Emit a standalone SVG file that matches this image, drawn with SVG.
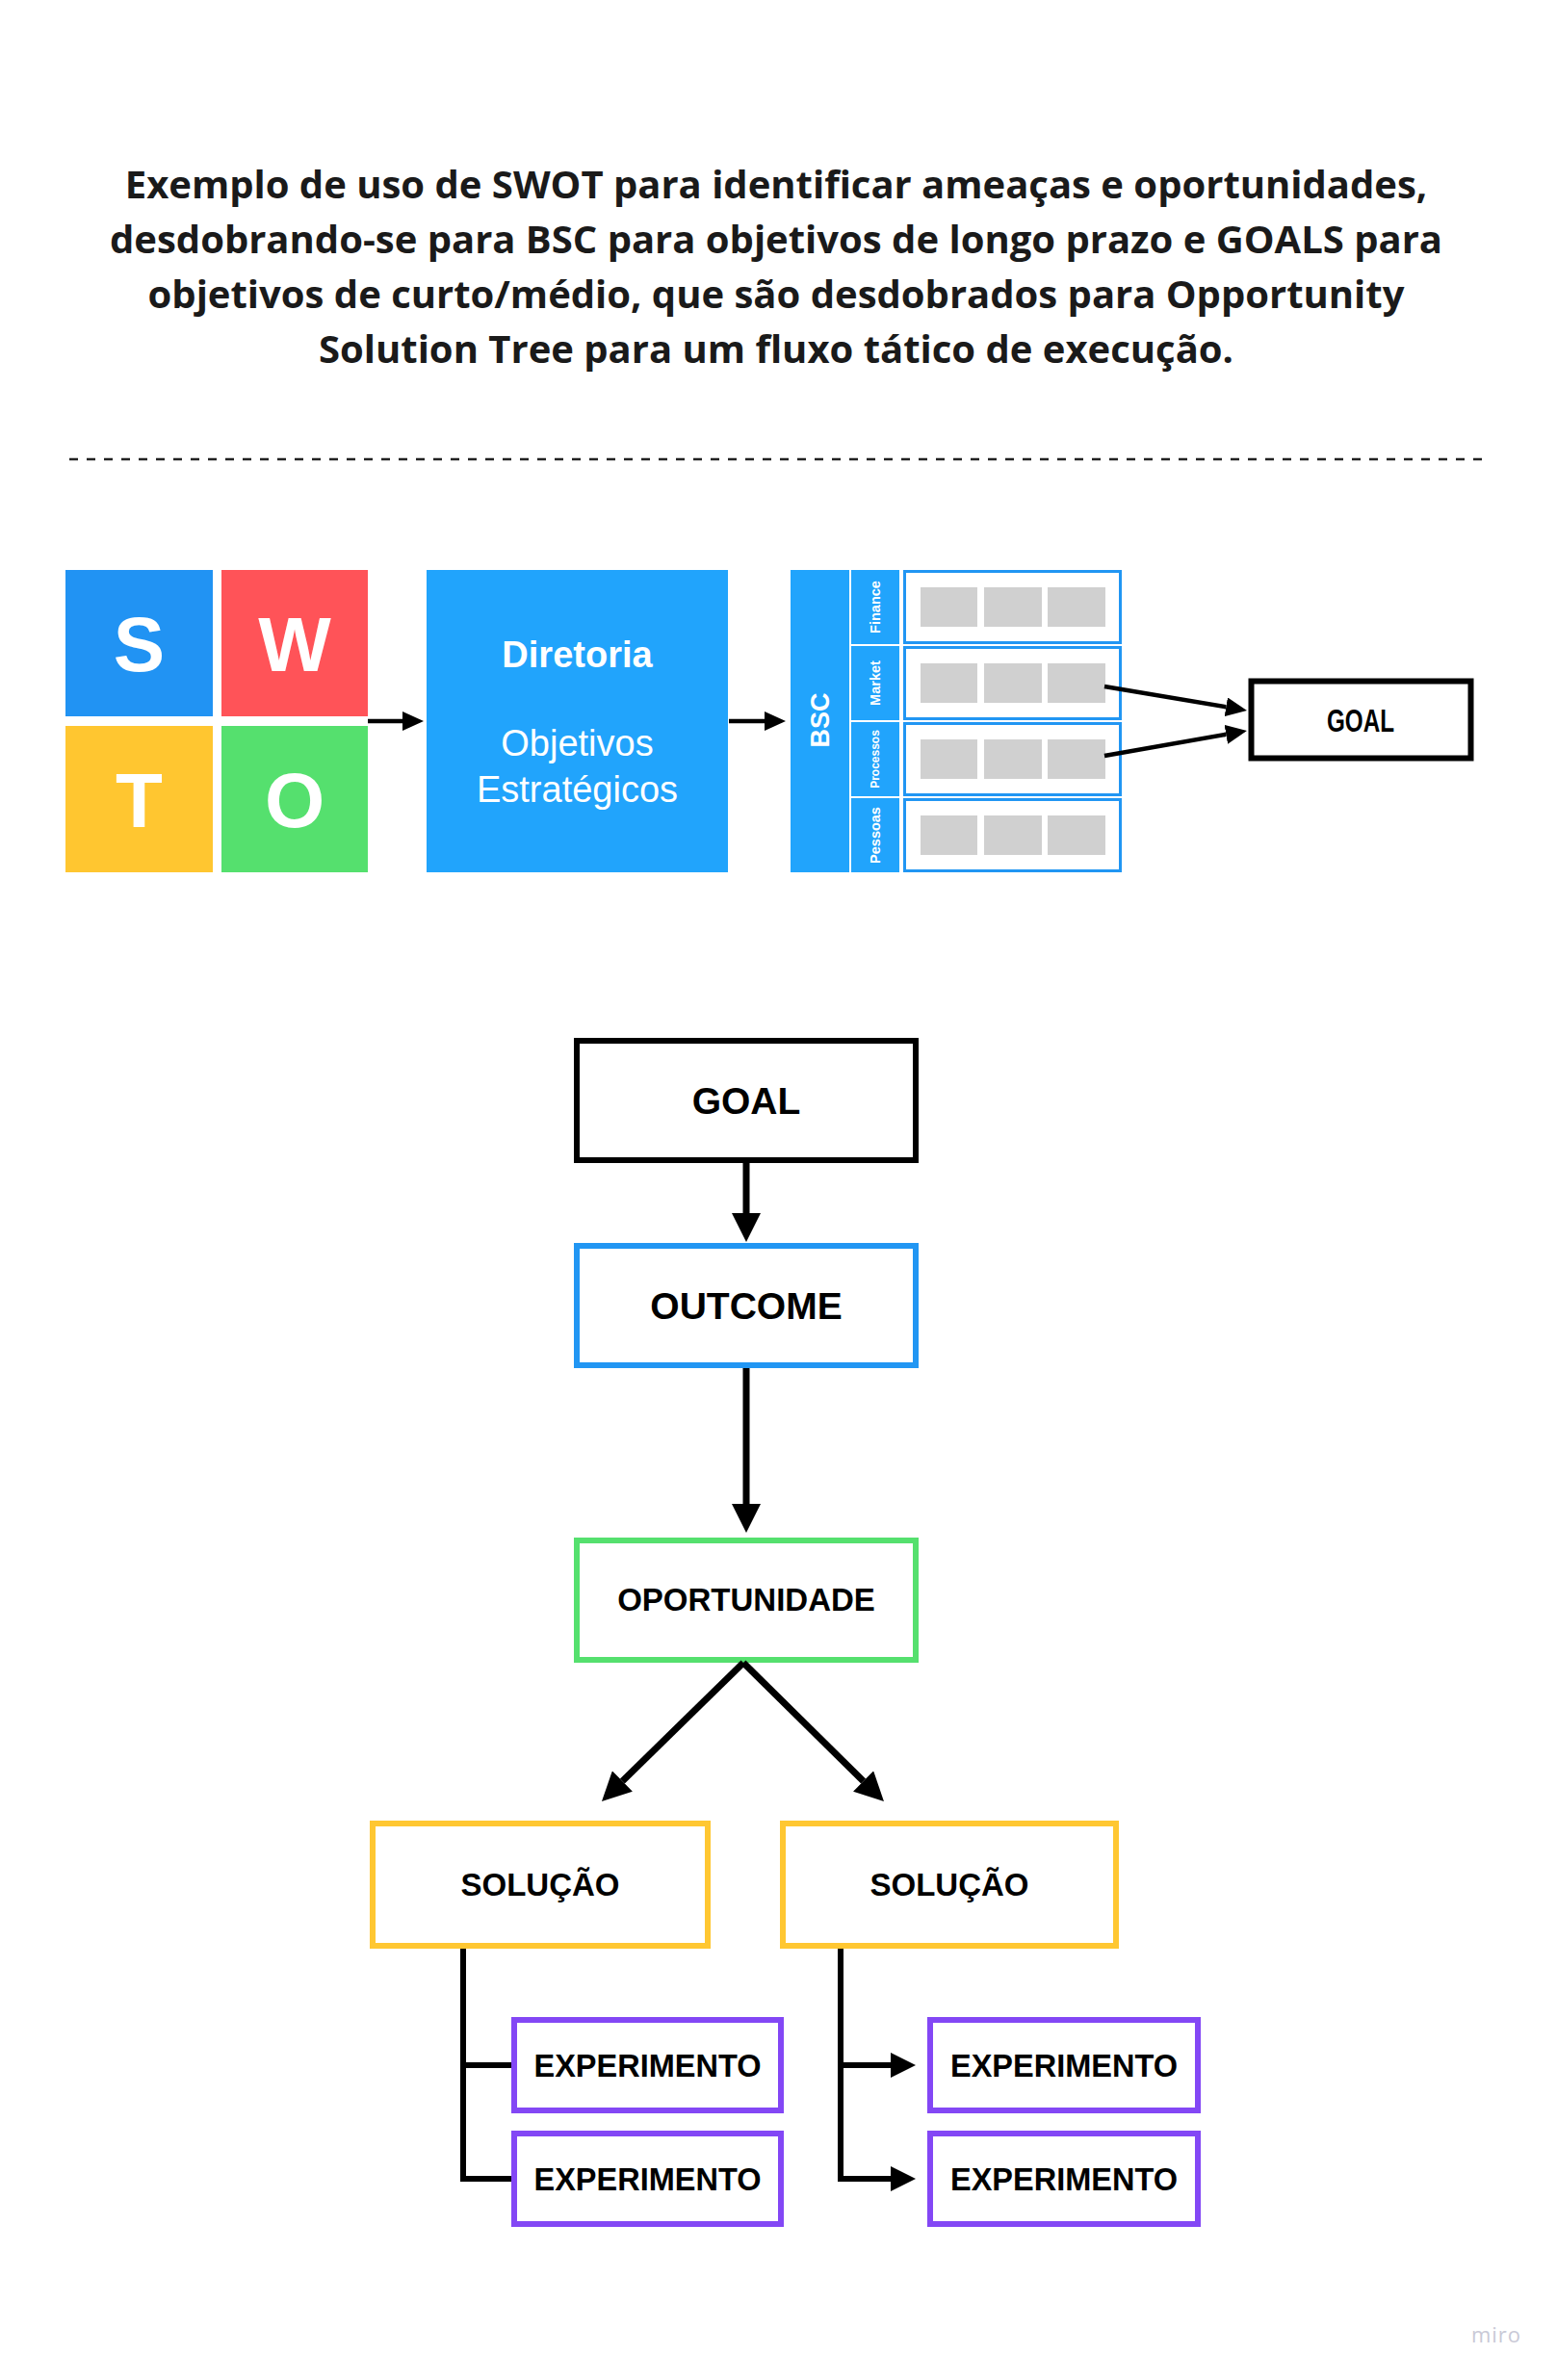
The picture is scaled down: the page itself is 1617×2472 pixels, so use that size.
<svg xmlns="http://www.w3.org/2000/svg" width="1617" height="2472" viewBox="0 0 1617 2472">
  <style>
    .title { font-family: "Open Sans", "Noto Sans", sans-serif; font-weight: 700; font-size: 40px; fill: #1a1a1a; text-anchor: middle; }
    .lbl { font-family: "Liberation Sans", Arial, sans-serif; font-weight: 700; fill: #000; text-anchor: middle; }
    .wlbl { font-family: "Liberation Sans", Arial, sans-serif; font-weight: 700; fill: #fff; text-anchor: middle; }
    .wreg { font-family: "Liberation Sans", Arial, sans-serif; font-weight: 400; fill: #fff; text-anchor: middle; }
    .box { fill: #fff; stroke-width: 6; }
    .row { fill: #fff; stroke: #2196F3; stroke-width: 3; }
    .sq { fill: #d0d0d0; }
    .cat { fill: #21A4FC; }
    .conn { fill: none; stroke: #000; stroke-linejoin: miter; }
  </style>
  <defs>
    <marker id="ahS" markerUnits="userSpaceOnUse" markerWidth="22" markerHeight="20" refX="0" refY="10" orient="auto">
      <path d="M0,0 L22,10 L0,20 Z" fill="#000"/>
    </marker>
    <marker id="ahM" markerUnits="userSpaceOnUse" markerWidth="26" markerHeight="26" refX="0" refY="13" orient="auto">
      <path d="M0,0 L26,13 L0,26 Z" fill="#000"/>
    </marker>
    <marker id="ahL" markerUnits="userSpaceOnUse" markerWidth="30" markerHeight="30" refX="0" refY="15" orient="auto">
      <path d="M0,0 L30,15 L0,30 Z" fill="#000"/>
    </marker>
  </defs>
  <rect width="1617" height="2472" fill="#fff"/>

  <g id="title">
    <text class="title" x="806" y="206">Exemplo de uso de SWOT para identificar ameaças e oportunidades,</text>
    <text class="title" x="806" y="263">desdobrando-se para BSC para objetivos de longo prazo e GOALS para</text>
    <text class="title" x="806" y="320">objetivos de curto/médio, que são desdobrados para Opportunity</text>
    <text class="title" x="806" y="377">Solution Tree para um fluxo tático de execução.</text>
  </g>

  <line id="divider" x1="72" y1="477" x2="1545" y2="477" stroke="#222" stroke-width="2.5" stroke-dasharray="9 9"/>

  <g id="swot">
    <g id="swot-s"><rect x="68" y="592" width="153" height="152" fill="#2193F3"/><text class="wlbl" x="144.5" y="697" font-size="80">S</text></g>
    <g id="swot-w"><rect x="230" y="592" width="152" height="152" fill="#FF5358"/><text class="wlbl" x="306" y="697" font-size="80">W</text></g>
    <g id="swot-t"><rect x="68" y="754" width="153" height="152" fill="#FFC630"/><text class="wlbl" x="144.5" y="859" font-size="80">T</text></g>
    <g id="swot-o"><rect x="230" y="754" width="152" height="152" fill="#55E06E"/><text class="wlbl" x="306" y="859" font-size="80">O</text></g>
  </g>

  <g id="diretoria">
    <rect x="443" y="592" width="313" height="314" fill="#21A4FC"/>
    <text class="wlbl" x="599.5" y="693" font-size="38">Diretoria</text>
    <text class="wreg" x="599.5" y="785" font-size="38">Objetivos</text>
    <text class="wreg" x="599.5" y="833" font-size="38">Estratégicos</text>
  </g>

  <g id="bsc">
    <rect x="821" y="592" width="61" height="314" fill="#21A4FC"/>
    <text class="wlbl" font-size="27" transform="translate(861,748) rotate(-90)">BSC</text>
    <g id="bsc-finance">
      <rect class="cat" x="884" y="592" width="50" height="77"/>
      <text class="wlbl" font-size="14.5" transform="translate(914,630.5) rotate(-90)">Finance</text>
      <rect class="row" x="939.5" y="593.5" width="224" height="74"/>
      <rect class="sq" x="956" y="610" width="59" height="41"/><rect class="sq" x="1022" y="610" width="60" height="41"/><rect class="sq" x="1088" y="610" width="60" height="41"/>
    </g>
    <g id="bsc-market">
      <rect class="cat" x="884" y="671" width="50" height="77"/>
      <text class="wlbl" font-size="14.5" transform="translate(914,709.5) rotate(-90)">Market</text>
      <rect class="row" x="939.5" y="672.5" width="224" height="74"/>
      <rect class="sq" x="956" y="689" width="59" height="41"/><rect class="sq" x="1022" y="689" width="60" height="41"/><rect class="sq" x="1088" y="689" width="60" height="41"/>
    </g>
    <g id="bsc-processos">
      <rect class="cat" x="884" y="750" width="50" height="77"/>
      <text class="wlbl" font-size="12" transform="translate(913,788.5) rotate(-90)">Processos</text>
      <rect class="row" x="939.5" y="751.5" width="224" height="74"/>
      <rect class="sq" x="956" y="768" width="59" height="41"/><rect class="sq" x="1022" y="768" width="60" height="41"/><rect class="sq" x="1088" y="768" width="60" height="41"/>
    </g>
    <g id="bsc-pessoas">
      <rect class="cat" x="884" y="829" width="50" height="77"/>
      <text class="wlbl" font-size="14.5" transform="translate(914,867.5) rotate(-90)">Pessoas</text>
      <rect class="row" x="939.5" y="830.5" width="224" height="74"/>
      <rect class="sq" x="956" y="847" width="59" height="41"/><rect class="sq" x="1022" y="847" width="60" height="41"/><rect class="sq" x="1088" y="847" width="60" height="41"/>
    </g>
  </g>

  <g id="goal-small">
    <rect class="box" x="1299.5" y="707.5" width="228" height="80" stroke="#000" stroke-width="5"/>
    <text class="lbl" x="1413" y="760" font-size="34" textLength="70" lengthAdjust="spacingAndGlyphs">GOAL</text>
  </g>

  <g id="goal">
    <rect class="box" x="599" y="1081" width="352" height="124" stroke="#000"/>
    <text class="lbl" x="775" y="1157" font-size="39">GOAL</text>
  </g>
  <g id="outcome">
    <rect class="box" x="599" y="1294" width="352" height="124" stroke="#2196F3"/>
    <text class="lbl" x="775" y="1370" font-size="39">OUTCOME</text>
  </g>
  <g id="oportunidade">
    <rect class="box" x="599" y="1600" width="352" height="124" stroke="#55E06E"/>
    <text class="lbl" x="775" y="1673" font-size="33">OPORTUNIDADE</text>
  </g>
  <g id="solucao-1">
    <rect class="box" x="387" y="1894" width="348" height="127" stroke="#FFC732"/>
    <text class="lbl" x="561" y="1969" font-size="33">SOLUÇÃO</text>
  </g>
  <g id="solucao-2">
    <rect class="box" x="813" y="1894" width="346" height="127" stroke="#FFC732"/>
    <text class="lbl" x="986" y="1969" font-size="33">SOLUÇÃO</text>
  </g>
  <g id="experimento-1">
    <rect class="box" x="534" y="2098" width="277" height="94" stroke="#8347F5"/>
    <text class="lbl" x="672.5" y="2157" font-size="32.5">EXPERIMENTO</text>
  </g>
  <g id="experimento-2">
    <rect class="box" x="534" y="2216" width="277" height="94" stroke="#8347F5"/>
    <text class="lbl" x="672.5" y="2275" font-size="32.5">EXPERIMENTO</text>
  </g>
  <g id="experimento-3">
    <rect class="box" x="966" y="2098" width="278" height="94" stroke="#8347F5"/>
    <text class="lbl" x="1105" y="2157" font-size="32.5">EXPERIMENTO</text>
  </g>
  <g id="experimento-4">
    <rect class="box" x="966" y="2216" width="278" height="94" stroke="#8347F5"/>
    <text class="lbl" x="1105" y="2275" font-size="32.5">EXPERIMENTO</text>
  </g>

  <g id="connectors">
    <line class="conn" x1="382" y1="749" x2="418" y2="749" stroke-width="4.5" marker-end="url(#ahS)"/>
    <line class="conn" x1="757" y1="749" x2="794" y2="749" stroke-width="4.5" marker-end="url(#ahS)"/>
    <line class="conn" x1="1147" y1="713" x2="1273.3" y2="734.3" stroke-width="4.5" marker-end="url(#ahS)"/>
    <line class="conn" x1="1147" y1="785" x2="1273.3" y2="762.8" stroke-width="4.5" marker-end="url(#ahS)"/>
    <line class="conn" x1="775" y1="1208" x2="775" y2="1260" stroke-width="7" marker-end="url(#ahL)"/>
    <line class="conn" x1="775" y1="1421" x2="775" y2="1562" stroke-width="7" marker-end="url(#ahL)"/>
    <line class="conn" x1="772" y1="1727" x2="646.4" y2="1850" stroke-width="7" marker-end="url(#ahL)"/>
    <line class="conn" x1="772" y1="1727" x2="896.6" y2="1850" stroke-width="7" marker-end="url(#ahL)"/>
    <path class="conn" d="M481,2024 V2263 H531" stroke-width="6"/>
    <path class="conn" d="M481,2145 H531" stroke-width="6"/>
    <path class="conn" d="M873,2024 V2263 H925" stroke-width="6" marker-end="url(#ahM)"/>
    <path class="conn" d="M873,2145 H925" stroke-width="6" marker-end="url(#ahM)"/>
  </g>

  <text id="watermark" x="1554" y="2433" font-family="'Open Sans', 'Noto Sans', sans-serif" font-size="22" letter-spacing="1" fill="#c9c9d6" text-anchor="middle">miro</text>
</svg>
